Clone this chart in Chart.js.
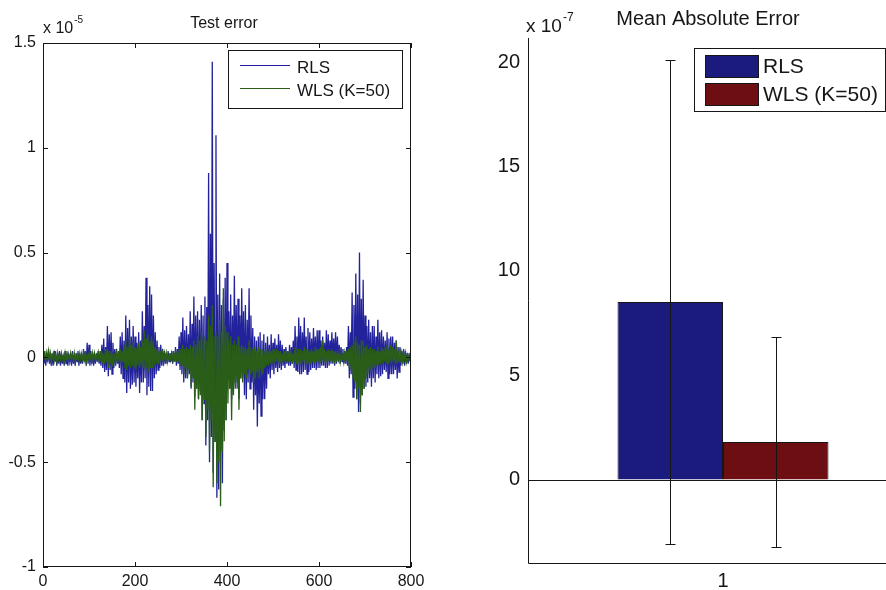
<!DOCTYPE html>
<html>
<head>
<meta charset="utf-8">
<title>Test error / Mean Absolute Error</title>
<script src="https://cdn.jsdelivr.net/npm/chart.js@4.4.1/dist/chart.umd.min.js"></script>
<style>
  html, body { margin: 0; padding: 0; background: #fff; width: 886px; height: 590px; overflow: hidden; }
  #testChart { position: absolute; left: 0; top: 0; }
  #maeChart { position: absolute; left: 440px; top: 0; }
</style>
</head>
<body>
<canvas id="testChart" width="440" height="590"></canvas>
<canvas id="maeChart" width="500" height="590"></canvas>
<script>
const FONT = '"Liberation Sans", Arial, sans-serif';
const INK = '#161616';

const seriesNames = ['RLS', 'WLS (K=50)'];
const lineColors = ['#22229a', '#2a5e18'];
const barColors = ['#1b1b7d', '#6d0f12'];

// test error, every 2nd sample (one row = 20 samples), units of 1e-5
const sampleStep = 2;
const rlsTestErr = [
  0.03,-0.03,0.01,-0.04,0.02,-0.02,0.04,-0.03,0.01,-0.04,
  0.02,-0.04,0.03,-0.02,0.01,-0.04,0.02,-0.03,0.03,-0.04,
  0.02,-0.03,0.01,-0.04,0.03,-0.03,0.02,-0.04,0.01,-0.02,
  0.02,-0.04,0.03,-0.03,0.01,-0.04,0.02,-0.02,0.03,-0.04,
  0.02,-0.03,0.01,-0.03,0.04,-0.02,0.03,-0.04,0.07,-0.03,
  0.06,-0.04,0.03,-0.03,0.02,-0.04,0.01,-0.03,0.02,-0.02,
  0.03,-0.03,0.02,-0.04,0.06,-0.05,0.09,-0.07,0.05,-0.06,
  0.15,-0.09,0.11,-0.06,0.12,-0.08,0.07,-0.05,0.04,-0.04,
  0.04,-0.03,0.02,-0.05,0.1,-0.08,0.12,-0.1,0.08,-0.12,
  0.2,-0.17,0.14,-0.12,0.18,-0.15,0.1,-0.13,0.15,-0.12,
  0.1,-0.14,0.07,-0.1,0.12,-0.17,0.08,-0.12,0.22,-0.12,
  0.15,-0.1,0.38,-0.18,0.25,-0.14,0.34,-0.16,0.3,-0.16,
  0.2,-0.1,0.12,-0.08,0.08,-0.06,0.05,-0.05,0.06,-0.04,
  0.04,-0.04,0.03,-0.03,0.02,-0.03,0.03,-0.02,0.02,-0.02,
  0.03,-0.03,0.02,-0.02,0.05,-0.04,0.04,-0.03,0.1,-0.06,
  0.12,-0.08,0.19,-0.12,0.13,-0.1,0.15,-0.1,0.11,-0.08,
  0.22,-0.15,0.16,-0.12,0.29,-0.19,0.2,-0.15,0.22,-0.2,
  0.18,-0.16,0.25,-0.3,0.2,-0.22,0.29,-0.42,0.24,-0.3,
  0.88,-0.5,0.59,-0.38,1.41,-0.55,0.45,-0.4,1.06,-0.67,
  0.3,-0.63,0.4,-0.44,0.25,-0.6,0.28,-0.35,0.38,-0.3,
  0.45,-0.08,0.22,-0.15,0.3,-0.2,0.2,-0.12,0.39,-0.12,
  0.25,-0.15,0.28,-0.2,0.2,-0.1,0.33,-0.1,0.22,-0.18,
  0.25,-0.2,0.18,-0.12,0.33,-0.15,0.2,-0.12,0.14,-0.25,
  0.1,-0.18,0.08,-0.33,0.1,-0.22,0.12,-0.28,0.08,-0.2,
  0.11,-0.2,0.07,-0.15,0.1,-0.08,0.06,-0.1,0.11,-0.06,
  0.07,-0.08,0.09,-0.05,0.06,-0.07,0.11,-0.05,0.08,-0.06,
  0.06,-0.04,0.04,-0.05,0.05,-0.03,0.03,-0.04,0.06,-0.04,
  0.05,-0.03,0.08,-0.05,0.15,-0.06,0.1,-0.07,0.19,-0.08,
  0.15,-0.08,0.12,-0.07,0.19,-0.06,0.1,-0.08,0.14,-0.07,
  0.12,-0.06,0.09,-0.05,0.14,-0.05,0.1,-0.06,0.13,-0.05,
  0.13,-0.05,0.08,-0.04,0.1,-0.04,0.07,-0.05,0.13,-0.05,
  0.11,-0.04,0.08,-0.03,0.12,-0.03,0.09,-0.04,0.12,-0.03,
  0.1,-0.02,0.06,-0.03,0.05,-0.02,0.04,-0.03,0.03,-0.03,
  0.05,-0.04,0.15,-0.1,0.12,-0.08,0.31,-0.19,0.25,-0.15,
  0.4,-0.2,0.3,-0.26,0.5,-0.22,0.28,-0.18,0.37,-0.15,
  0.2,-0.14,0.15,-0.12,0.18,-0.1,0.12,-0.14,0.15,-0.1,
  0.15,-0.12,0.1,-0.08,0.18,-0.1,0.12,-0.09,0.13,-0.08,
  0.1,-0.06,0.08,-0.07,0.12,-0.1,0.09,-0.08,0.1,-0.08,
  0.1,-0.08,0.07,-0.06,0.08,-0.1,0.05,-0.07,0.05,-0.04,
  0.03,-0.03,0.04,-0.04,0.03,-0.03,0.02,-0.03,0.02,-0.02
];
const wlsTestErr = [
  0.02,-0.01,0.03,-0.02,0.02,-0.01,0.03,-0.01,0.02,-0.02,
  0.01,-0.01,0.02,-0.01,0.01,-0.02,0.02,-0.01,0.01,-0.01,
  0.02,-0.01,0.01,-0.02,0.02,-0.01,0.03,-0.01,0.01,-0.01,
  0.02,-0.01,0.01,-0.01,0.02,-0.02,0.01,-0.01,0.02,-0.01,
  0.02,-0.01,0.01,-0.01,0.02,-0.01,0.03,-0.02,0.01,-0.01,
  0.02,-0.01,0.01,-0.02,0.02,-0.01,0.02,-0.01,0.01,-0.01,
  0.02,-0.02,0.03,-0.02,0.03,-0.03,0.02,-0.03,0.04,-0.02,
  0.04,-0.05,0.03,-0.03,0.03,-0.04,0.02,-0.03,0.02,-0.02,
  0.02,-0.02,0.03,-0.02,0.04,-0.03,0.03,-0.02,0.06,-0.05,
  0.08,-0.06,0.05,-0.04,0.1,-0.05,0.06,-0.04,0.07,-0.05,
  0.05,-0.06,0.04,-0.04,0.07,-0.05,0.05,-0.04,0.08,-0.05,
  0.13,-0.06,0.09,-0.05,0.11,-0.07,0.08,-0.05,0.1,-0.05,
  0.08,-0.04,0.05,-0.03,0.04,-0.03,0.03,-0.02,0.03,-0.02,
  0.02,-0.02,0.02,-0.01,0.02,-0.02,0.01,-0.01,0.02,-0.01,
  0.02,-0.01,0.03,-0.02,0.02,-0.02,0.03,-0.02,0.04,-0.04,
  0.04,-0.04,0.06,-0.08,0.04,-0.05,0.05,-0.1,0.04,-0.06,
  0.06,-0.14,0.05,-0.1,0.08,-0.25,0.06,-0.15,0.1,-0.2,
  0.08,-0.18,0.12,-0.3,0.09,-0.2,0.1,-0.38,0.08,-0.25,
  0.2,-0.45,0.15,-0.3,0.25,-0.62,0.1,-0.4,0.12,-0.6,
  0.1,-0.5,0.18,-0.71,0.12,-0.45,0.33,-0.4,0.15,-0.3,
  0.12,-0.22,0.08,-0.15,0.1,-0.3,0.06,-0.18,0.08,-0.15,
  0.06,-0.12,0.1,-0.25,0.05,-0.1,0.06,-0.12,0.05,-0.08,
  0.05,-0.1,0.04,-0.06,0.08,-0.08,0.05,-0.07,0.04,-0.12,
  0.05,-0.1,0.03,-0.07,0.05,-0.1,0.04,-0.06,0.04,-0.08,
  0.03,-0.05,0.04,-0.04,0.03,-0.04,0.04,-0.03,0.03,-0.03,
  0.04,-0.03,0.03,-0.02,0.04,-0.02,0.03,-0.03,0.03,-0.03,
  0.02,-0.02,0.03,-0.02,0.02,-0.02,0.03,-0.02,0.03,-0.02,
  0.03,-0.03,0.02,-0.02,0.05,-0.03,0.04,-0.03,0.04,-0.04,
  0.04,-0.03,0.03,-0.02,0.05,-0.03,0.04,-0.03,0.04,-0.02,
  0.03,-0.03,0.04,-0.02,0.03,-0.03,0.05,-0.02,0.04,-0.02,
  0.04,-0.03,0.05,-0.02,0.08,-0.02,0.04,-0.03,0.03,-0.02,
  0.04,-0.02,0.03,-0.02,0.04,-0.02,0.03,-0.03,0.03,-0.02,
  0.02,-0.01,0.02,-0.02,0.02,-0.01,0.02,-0.02,0.02,-0.02,
  0.03,-0.02,0.04,-0.05,0.05,-0.06,0.06,-0.1,0.08,-0.12,
  0.1,-0.2,0.07,-0.15,0.06,-0.26,0.08,-0.18,0.08,-0.15,
  0.05,-0.1,0.06,-0.08,0.04,-0.06,0.05,-0.07,0.04,-0.05,
  0.04,-0.05,0.03,-0.04,0.05,-0.04,0.03,-0.03,0.05,-0.03,
  0.04,-0.02,0.05,-0.03,0.06,-0.03,0.04,-0.02,0.06,-0.03,
  0.05,-0.02,0.04,-0.03,0.08,-0.03,0.03,-0.02,0.04,-0.02,
  0.02,-0.02,0.02,-0.01,0.02,-0.02,0.01,-0.01,0.01,-0.01
];
const sampleTicks = [0, 200, 400, 600, 800];
const errTicks = [-1, -0.5, 0, 0.5, 1, 1.5];

// mean absolute error and its spread, units of 1e-7
const maeCategories = ['1'];
const maeMean = [8.5, 1.8];
const maeSpread = [11.6, 5.05];
const maeTicks = [0, 5, 10, 15, 20];

const toPoints = arr => arr.map((v, i) => ({ x: i * sampleStep, y: v }));

// "x 10^n" multiplier above the y axis
function drawExponent(ctx, x, y, size, exp) {
  ctx.font = size + 'px ' + FONT;
  ctx.textAlign = 'left';
  ctx.fillText('x 10', x, y);
  const w = ctx.measureText('x 10').width;
  ctx.font = Math.round(size * 0.65) + 'px ' + FONT;
  ctx.fillText(exp, x + w + 1, y - size * 0.6);
}

const noGrid = { display: false, drawTicks: false, tickLength: 0 };

/************ left: test error ************/
const testFrame = {
  id: 'testFrame',
  afterDraw(chart) {
    const { ctx, chartArea: a, scales: { x, y } } = chart;
    ctx.save();
    ctx.strokeStyle = INK;
    ctx.lineWidth = 1;
    ctx.strokeRect(Math.round(a.left) + 0.5, Math.round(a.top) + 0.5,
      Math.round(a.width) - 1, Math.round(a.height) - 1);

    // inward tick marks on all four sides
    ctx.beginPath();
    sampleTicks.forEach(v => {
      const px = Math.round(x.getPixelForValue(v)) + 0.5;
      ctx.moveTo(px, a.top); ctx.lineTo(px, a.top + 5);
      ctx.moveTo(px, a.bottom); ctx.lineTo(px, a.bottom - 5);
    });
    errTicks.forEach(v => {
      const py = Math.round(y.getPixelForValue(v)) + 0.5;
      ctx.moveTo(a.left, py); ctx.lineTo(a.left + 5, py);
      ctx.moveTo(a.right, py); ctx.lineTo(a.right - 5, py);
    });
    ctx.stroke();

    ctx.fillStyle = INK;
    ctx.textBaseline = 'alphabetic';
    ctx.font = '16px ' + FONT;
    ctx.textAlign = 'center';
    ctx.fillText('Test error', 224, 28);
    drawExponent(ctx, 43, 33, 16, '-5');

    // legend box
    ctx.fillStyle = '#fff';
    ctx.fillRect(228, 50, 174, 58);
    ctx.strokeRect(228.5, 50.5, 174, 58);
    const rows = [65.5, 88.5];
    seriesNames.forEach((name, i) => {
      ctx.strokeStyle = lineColors[i];
      ctx.beginPath();
      ctx.moveTo(240, rows[i]); ctx.lineTo(290, rows[i]);
      ctx.stroke();
      ctx.fillStyle = INK;
      ctx.font = '17px ' + FONT;
      ctx.textAlign = 'left';
      ctx.fillText(name, 297, rows[i] + 7);
    });
    ctx.restore();
  }
};

new Chart(document.getElementById('testChart'), {
  type: 'line',
  data: {
    datasets: [rlsTestErr, wlsTestErr].map((arr, i) => ({
      label: seriesNames[i],
      data: toPoints(arr),
      borderColor: lineColors[i],
      borderWidth: 1.3,
      pointRadius: 0,
      tension: 0,
      fill: false,
      order: 1 - i
    }))
  },
  options: {
    responsive: false,
    animation: false,
    devicePixelRatio: 1,
    layout: { padding: { top: 43, right: 29, left: 0, bottom: 0 } },
    plugins: { legend: { display: false }, tooltip: { enabled: false } },
    scales: {
      x: {
        type: 'linear', min: 0, max: 800,
        grid: noGrid, border: { display: false },
        afterBuildTicks: s => { s.ticks = sampleTicks.map(v => ({ value: v })); },
        afterFit: s => { s.height = 23; },
        ticks: { color: INK, font: { family: FONT, size: 16 }, padding: 5, maxRotation: 0, callback: v => String(v) }
      },
      y: {
        type: 'linear', min: -1, max: 1.5,
        grid: noGrid, border: { display: false },
        afterBuildTicks: s => { s.ticks = errTicks.map(v => ({ value: v })); },
        afterFit: s => { s.width = 43; },
        ticks: { color: INK, font: { family: FONT, size: 16 }, padding: 7, callback: v => String(v) }
      }
    }
  },
  plugins: [testFrame]
});

/************ right: mean absolute error ************/
const maeFrame = {
  id: 'maeFrame',
  afterDatasetsDraw(chart) {
    const { ctx, chartArea: a, scales: { y } } = chart;
    ctx.save();
    ctx.strokeStyle = INK;
    ctx.lineWidth = 1;
    const y0 = Math.round(y.getPixelForValue(0)) + 0.5;
    ctx.beginPath();
    ctx.moveTo(Math.round(a.left) + 0.5, a.top);
    ctx.lineTo(Math.round(a.left) + 0.5, Math.round(a.bottom) + 0.5);
    ctx.lineTo(a.right, Math.round(a.bottom) + 0.5);
    ctx.moveTo(a.left, y0);
    ctx.lineTo(a.right, y0);
    ctx.stroke();

    // error bars, mean +/- spread
    maeMean.forEach((m, i) => {
      const bar = chart.getDatasetMeta(i).data[0];
      const bx = Math.round(bar.x) + 0.5;
      const top = Math.round(y.getPixelForValue(m + maeSpread[i])) + 0.5;
      const bot = Math.round(y.getPixelForValue(m - maeSpread[i])) + 0.5;
      ctx.beginPath();
      ctx.moveTo(bx, top); ctx.lineTo(bx, bot);
      ctx.moveTo(bx - 5, top); ctx.lineTo(bx + 5, top);
      ctx.moveTo(bx - 5, bot); ctx.lineTo(bx + 5, bot);
      ctx.stroke();
    });
    ctx.restore();
  },
  afterDraw(chart) {
    const { ctx } = chart;
    ctx.save();
    ctx.fillStyle = INK;
    ctx.strokeStyle = INK;
    ctx.lineWidth = 1;
    ctx.textBaseline = 'alphabetic';
    ctx.font = '20px ' + FONT;
    ctx.textAlign = 'center';
    ctx.fillText('Mean Absolute Error', 268, 25);
    drawExponent(ctx, 86, 32, 19, '-7');

    ctx.fillStyle = '#fff';
    ctx.fillRect(254, 48, 191, 63);
    ctx.strokeRect(254.5, 48.5, 191, 63);
    const rows = [55, 83];
    seriesNames.forEach((name, i) => {
      ctx.fillStyle = barColors[i];
      ctx.fillRect(265, rows[i], 53, 22);
      ctx.strokeRect(265.5, rows[i] + 0.5, 53, 22);
      ctx.fillStyle = INK;
      ctx.font = '21px ' + FONT;
      ctx.textAlign = 'left';
      ctx.fillText(name, 323, rows[i] + 18);
    });
    ctx.restore();
  }
};

new Chart(document.getElementById('maeChart'), {
  type: 'bar',
  data: {
    labels: maeCategories,
    datasets: seriesNames.map((name, i) => ({
      label: name,
      data: [maeMean[i]],
      backgroundColor: barColors[i],
      borderColor: INK,
      borderWidth: 1,
      categoryPercentage: 0.541,
      barPercentage: 1
    }))
  },
  options: {
    responsive: false,
    animation: false,
    devicePixelRatio: 1,
    layout: { padding: { top: 38, right: 22, left: 0, bottom: 0 } },
    plugins: { legend: { display: false }, tooltip: { enabled: false } },
    scales: {
      x: {
        grid: noGrid, border: { display: false },
        afterFit: s => { s.height = 27; },
        ticks: { color: INK, font: { family: FONT, size: 20 }, padding: 6 }
      },
      y: {
        min: -4, max: 21.15,
        grid: noGrid, border: { display: false },
        afterBuildTicks: s => { s.ticks = maeTicks.map(v => ({ value: v })); },
        afterFit: s => { s.width = 88; },
        ticks: { color: INK, font: { family: FONT, size: 20 }, padding: 8, callback: v => String(v) }
      }
    }
  },
  plugins: [maeFrame]
});
</script>
</body>
</html>
